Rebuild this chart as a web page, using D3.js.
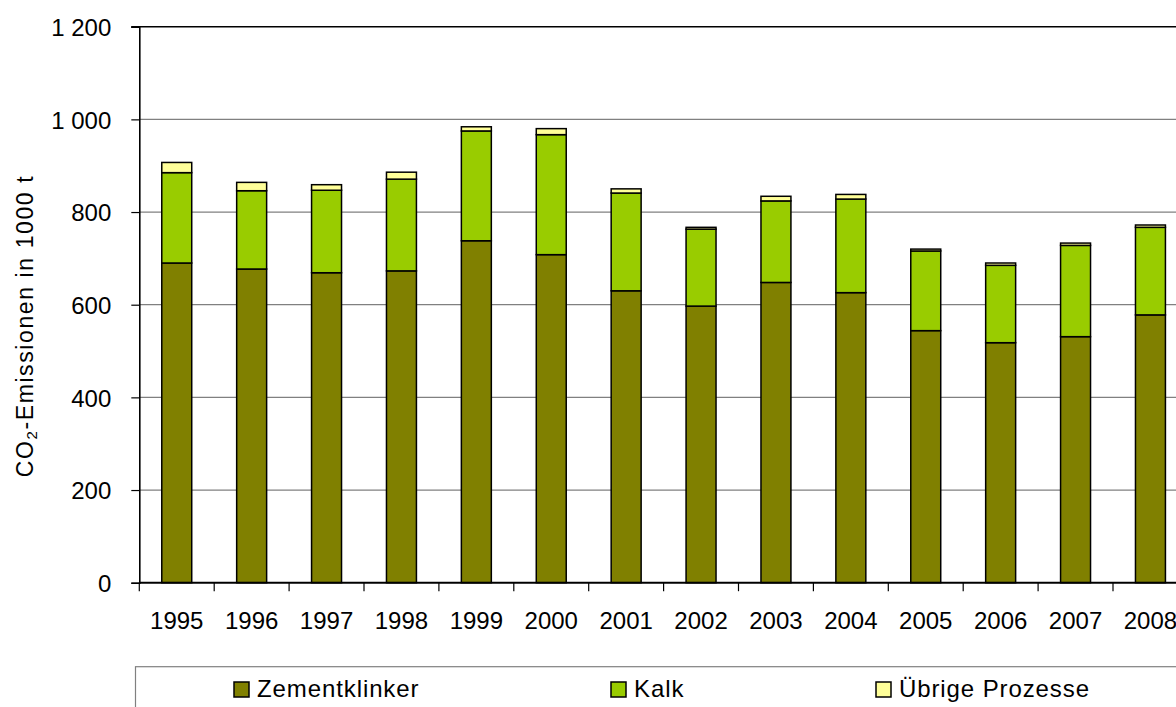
<!DOCTYPE html>
<html>
<head>
<meta charset="utf-8">
<script src="https://cdn.jsdelivr.net/npm/d3@7"></script>
<style>
	body { margin: 0; background: #fff; }
	svg { display: block; font-family: "Liberation Sans", Arial, sans-serif; }
</style>
</head>
<body>
<svg id="svgchart"></svg>
<script>
'use strict'

// data (1000 t CO2):
const years = ['1995', '1996', '1997', '1998', '1999', '2000', '2001', '2002', '2003', '2004', '2005', '2006', '2007', '2008']
const zementklinker = [690, 677, 669, 673, 738, 708, 630, 597, 648, 626, 544, 518, 531, 578]
const kalk = [195, 169, 178, 198, 237, 259, 211, 166, 176, 202, 172, 167, 197, 189]
const uebrige = [22, 18, 12, 15, 9, 13, 9, 4, 10, 10, 4, 5, 5, 5]
const yTicks = [0, 200, 400, 600, 800, 1000, 1200]
const seriesNames = ['Zementklinker', 'Kalk', 'Übrige Prozesse']
const colors = ['#808000', '#99cc00', '#ffff99']

const width = 1176, height = 707
// the plot runs past the right edge of the picture, like in the original
const plot = {left: 139.3, top: 26.7, bottom: 582.7, right: 139.3 + 14 * 74.9}

const rows = years.map((y, i) => ({year: y, z: zementklinker[i], k: kalk[i], u: uebrige[i]}))
const stacked = d3.stack().keys(['z', 'k', 'u'])(rows)

// x scale (years):
const x = d3.scaleBand()
	.domain(years)
	.range([plot.left, plot.right])
	.paddingInner(0.6)
	.paddingOuter(0.3)

// y scale (emissions):
const y = d3.scaleLinear()
	.domain([0, 1200])
	.range([plot.bottom, plot.top])

const svg = d3.select('#svgchart')
	.attr('width', width)
	.attr('height', height)

// grid lines:
svg.append('g')
	.selectAll('line')
	.data(yTicks.filter(t => t > 0 && t < 1200))
	.enter().append('line')
		.attr('x1', plot.left).attr('x2', plot.right)
		.attr('y1', d => y(d)).attr('y2', d => y(d))
		.attr('stroke', '#808080')
		.attr('stroke-width', 1.2)

// top border of the plot area:
svg.append('line')
	.attr('x1', plot.left - 8).attr('x2', plot.right)
	.attr('y1', y(1200)).attr('y2', y(1200))
	.attr('stroke', '#000')
	.attr('stroke-width', 1.6)

// bars:
svg.append('g')
	.selectAll('g')
	.data(stacked)
	.enter().append('g')
		.attr('fill', (d, i) => colors[i])
	.selectAll('rect')
	.data(d => d)
	.enter().append('rect')
		.attr('x', d => x(d.data.year))
		.attr('width', x.bandwidth())
		.attr('y', d => y(d[1]))
		.attr('height', d => y(d[0]) - y(d[1]))
		.attr('stroke', '#000')
		.attr('stroke-width', 1.5)

// y axis:
const yAxis = svg.append('g')
	.attr('transform', 'translate(' + plot.left + ',0)')
	.call(d3.axisLeft(y).tickValues(yTicks).tickSize(8).tickPadding(20)
		.tickFormat(d => d3.format(',')(d).replace(',', ' ')))
yAxis.select('.domain').attr('stroke-width', 1.6)
yAxis.selectAll('.tick line').attr('stroke-width', 1.2)
yAxis.selectAll('.tick text')
	.attr('font-size', '24px')
	.attr('font-family', '"Liberation Sans", Arial, sans-serif')
	.attr('fill', '#000')
	.attr('dy', '0.36em')

// x axis line and labels:
const xAxis = svg.append('g')
	.attr('transform', 'translate(0,' + plot.bottom + ')')
	.call(d3.axisBottom(x).tickSize(0).tickPadding(29))
xAxis.select('.domain').remove()
xAxis.selectAll('.tick text')
	.attr('font-size', '24px')
	.attr('font-family', '"Liberation Sans", Arial, sans-serif')
	.attr('fill', '#000')
svg.append('line')
	.attr('x1', plot.left).attr('x2', plot.right)
	.attr('y1', plot.bottom).attr('y2', plot.bottom)
	.attr('stroke', '#000')
	.attr('stroke-width', 2)
// ticks between the years:
svg.append('g')
	.selectAll('line')
	.data(years)
	.enter().append('line')
		.attr('x1', d => x(d) - x.step() * 0.3)
		.attr('x2', d => x(d) - x.step() * 0.3)
		.attr('y1', plot.bottom)
		.attr('y2', plot.bottom + 8.5)
		.attr('stroke', '#000')
		.attr('stroke-width', 1.2)

// y axis label:
const yLabel = svg.append('text')
	.attr('transform', 'translate(33,326) rotate(-90)')
	.attr('text-anchor', 'middle')
	.attr('font-size', '23px')
	.attr('letter-spacing', '1.6px')
yLabel.append('tspan').text('CO')
yLabel.append('tspan').text('2').attr('font-size', '15px').attr('dy', '4')
yLabel.append('tspan').text('-Emissionen in 1000 t').attr('dy', '-4')

// legend:
const legendX = [234, 611, 876]
svg.append('rect')
	.attr('x', 135.5).attr('y', 666.7)
	.attr('width', 1100).attr('height', 100)
	.attr('fill', 'none')
	.attr('stroke', '#808080')
	.attr('stroke-width', 1.2)
const legend = svg.append('g')
	.selectAll('g')
	.data(seriesNames)
	.enter().append('g')
		.attr('transform', (d, i) => 'translate(' + legendX[i] + ',682)')
legend.append('rect')
	.attr('width', 15).attr('height', 15)
	.attr('fill', (d, i) => colors[i])
	.attr('stroke', '#000')
	.attr('stroke-width', 1.5)
legend.append('text')
	.attr('x', 23)
	.attr('y', 15)
	.attr('font-size', '24px')
	.attr('letter-spacing', '0.9px')
	.text(d => d)
</script>
</body>
</html>
